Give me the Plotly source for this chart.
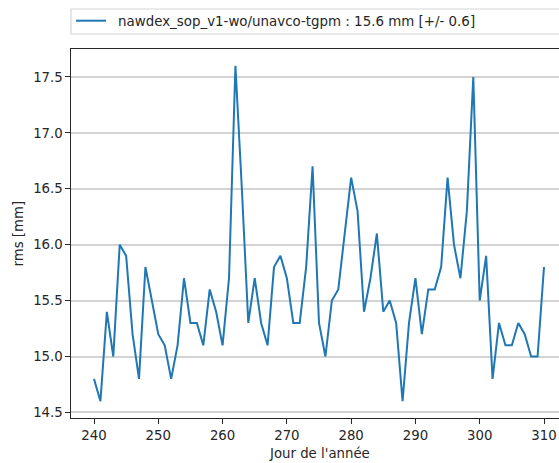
import plotly.graph_objects as go

# ---- data ----
days = list(range(240, 311))
rms = [
    14.8, 14.6, 15.4, 15.0, 16.0, 15.9, 15.2, 14.8, 15.8, 15.5,   # 240-249
    15.2, 15.1, 14.8, 15.1, 15.7, 15.3, 15.3, 15.1, 15.6, 15.4,   # 250-259
    15.1, 15.7, 17.6, 16.5, 15.3, 15.7, 15.3, 15.1, 15.8, 15.9,   # 260-269
    15.7, 15.3, 15.3, 15.8, 16.7, 15.3, 15.0, 15.5, 15.6, 16.1,   # 270-279
    16.6, 16.3, 15.4, 15.7, 16.1, 15.4, 15.5, 15.3, 14.6, 15.3,   # 280-289
    15.7, 15.2, 15.6, 15.6, 15.8, 16.6, 16.0, 15.7, 16.3, 17.5,   # 290-299
    15.5, 15.9, 14.8, 15.3, 15.1, 15.1, 15.3, 15.2, 15.0, 15.0,   # 300-309
    15.8,                                                         # 310
]
series_name = "nawdex_sop_v1-wo/unavco-tgpm : 15.6 mm [+/- 0.6]"
x_title = "Jour de l'année"
y_title = "rms [mm]"
x_ticks = [240, 250, 260, 270, 280, 290, 300, 310]
y_ticks = [14.5, 15.0, 15.5, 16.0, 16.5, 17.0, 17.5]

FONT = "DejaVu Sans"
W, H = 559, 463
ML, MR, MT, MB = 71, 0, 49, 45
px_per_day = 450 / 70.0
x_lo = 240 - (94 - ML) / px_per_day
x_hi = 240 + (W - 94) / px_per_day

fig = go.Figure()
fig.add_trace(go.Scatter(
    x=days, y=rms, mode="lines", name=series_name,
    line=dict(color="#1f77b4", width=2), showlegend=False,
))

plot_w = W - ML - MR
plot_h = H - MT - MB

def px_x(p):
    return (p - ML) / plot_w

def px_y(p):
    return 1 + (MT - p) / plot_h

# legend box (extends beyond right edge as in reference)
lx0, lx1 = px_x(71), px_x(600)
ly0, ly1 = px_y(34), px_y(9)
fig.add_shape(type="rect", xref="paper", yref="paper",
              x0=lx0, x1=lx1, y0=ly0, y1=ly1,
              line=dict(color="#d6d6d6", width=1.2), fillcolor="white", layer="above")
fig.add_shape(type="line", xref="paper", yref="paper",
              x0=px_x(76), x1=px_x(106), y0=px_y(20.7), y1=px_y(20.7),
              line=dict(color="#1f77b4", width=2))

annotations = [
    dict(text=series_name, xref="paper", yref="paper", x=px_x(115.5), y=px_y(21),
         xanchor="left", yanchor="middle", showarrow=False,
         font=dict(family=FONT, size=13.4, color="#262626")),
    dict(text=x_title, xref="x", yref="paper", x=275, y=0, yshift=-35,
         xanchor="center", yanchor="middle", showarrow=False,
         font=dict(family=FONT, size=13.3, color="#262626")),
    dict(text=y_title, xref="paper", yref="paper", x=0, y=0.5, xshift=-53,
         xanchor="center", yanchor="middle", textangle=-90, showarrow=False,
         font=dict(family=FONT, size=13.3, color="#262626")),
]

fig.update_layout(
    width=W, height=H,
    margin=dict(l=ML, r=MR, t=MT, b=MB, pad=0),
    paper_bgcolor="white", plot_bgcolor="white",
    font=dict(family=FONT, size=13.3, color="#262626"),
    annotations=annotations,
    showlegend=False,
)
fig.update_xaxes(
    range=[x_lo, x_hi], tickvals=x_ticks, ticktext=[str(t) for t in x_ticks],
    showgrid=False, zeroline=False,
    showline=True, linecolor="#262626", linewidth=1.2, mirror=True,
    ticks="outside", ticklen=4.5, tickwidth=1.1, tickcolor="#262626",
    tickfont=dict(family=FONT, size=13.3, color="#262626"),
)
fig.update_yaxes(
    range=[14.45, 17.75], tickvals=y_ticks, ticktext=[f"{t:.1f}" for t in y_ticks],
    showgrid=True, gridcolor="#d3d3d3", gridwidth=1.6, zeroline=False,
    showline=True, linecolor="#262626", linewidth=1.2, mirror=False,
    ticks="outside", ticklen=4.5, tickwidth=1.1, tickcolor="#262626",
    tickfont=dict(family=FONT, size=13.3, color="#262626"),
)

fig.write_html(
    "out.html",
    config={"displayModeBar": False},
    post_script="document.body.style.margin='0';document.body.style.overflow='hidden';",
)
